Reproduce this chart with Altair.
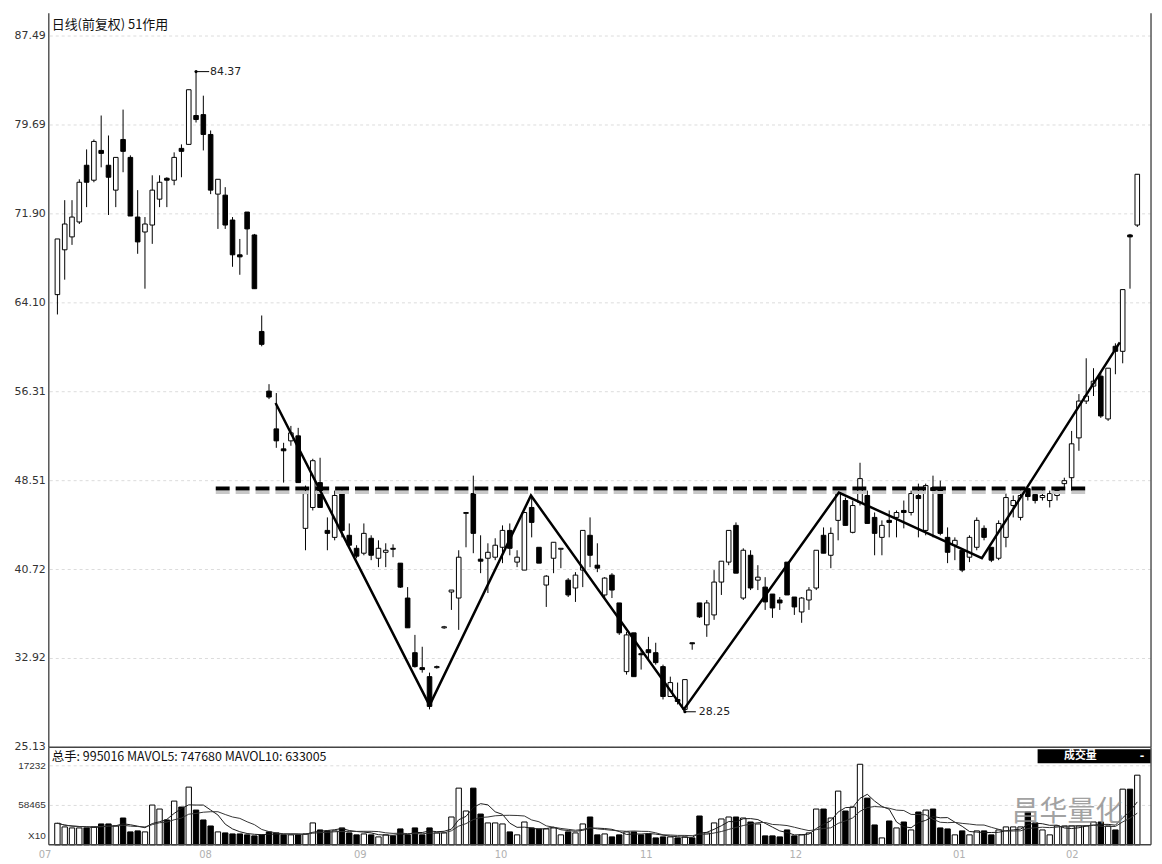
import altair as alt
import pandas as pd

# ---------------- data ----------------
opens = [64.82, 68.75, 69.88, 71.19, 76.16, 74.85, 77.46, 76.16, 73.98, 78.42,
         76.85, 71.62, 70.31, 70.92, 73.19, 75.02, 74.85, 77.64, 77.99, 80.52,
         80.60, 78.86, 73.63, 73.54, 71.36, 68.31, 72.06, 70.05, 61.59, 56.36,
         53.05, 51.30, 52.00, 52.44, 44.33, 46.16, 48.34, 44.15, 43.54, 47.38,
         43.72, 42.58, 42.15, 43.46, 41.71, 42.23, 42.58, 41.28, 38.22, 33.43,
         32.12, 31.33, 32.12, 35.61, 38.75, 38.22, 45.64, 47.38, 41.63, 41.71,
         41.80, 42.67, 44.15, 41.37, 40.67, 46.16, 42.67, 39.36, 41.71, 42.50,
         39.79, 39.10, 40.67, 43.72, 41.10, 38.49, 40.23, 37.79, 31.77, 35.17,
         33.34, 33.69, 33.43, 32.21, 29.59, 29.33, 28.46, 34.30, 37.79, 35.87,
         36.74, 39.62, 41.37, 44.59, 38.22, 41.97, 39.79, 39.18, 38.57, 38.05,
         41.37, 38.31, 37.00, 38.05, 39.10, 43.72, 41.97, 45.03, 46.77, 43.98,
         46.59, 47.21, 45.29, 43.54, 45.03, 45.29, 45.90, 45.72, 47.21, 44.15,
         47.90, 47.90, 43.54, 42.85, 42.41, 41.80, 42.67, 44.33, 42.67, 41.71,
         43.54, 46.33, 45.29, 47.81, 47.29, 47.03, 46.77, 47.21, 48.25, 48.77,
         52.26, 55.49, 56.80, 57.67, 53.92, 60.29, 59.85, 70.05, 70.92]
highs = [69.70, 73.10, 73.10, 74.93, 77.55, 78.42, 80.52, 78.77, 76.85, 81.04,
         77.03, 73.98, 71.62, 75.28, 75.28, 75.11, 77.29, 77.99, 82.78, 84.37,
         82.26, 79.21, 74.93, 74.24, 71.62, 69.70, 72.06, 70.14, 62.99, 56.97,
         56.19, 51.83, 53.31, 53.14, 48.08, 50.43, 50.52, 45.29, 47.64, 47.64,
         44.76, 42.85, 44.76, 43.72, 43.28, 43.02, 42.93, 41.28, 39.18, 34.99,
         33.95, 31.68, 32.30, 35.78, 38.92, 42.41, 45.72, 48.95, 43.72, 43.02,
         43.46, 44.59, 44.76, 42.41, 45.72, 47.03, 42.67, 40.23, 43.11, 42.58,
         39.97, 40.49, 44.15, 45.29, 43.02, 40.05, 40.40, 37.79, 35.26, 35.17,
         33.69, 34.82, 34.30, 32.38, 31.33, 30.81, 31.07, 34.30, 37.79, 38.05,
         40.67, 41.45, 44.15, 44.85, 42.58, 42.41, 41.10, 40.05, 38.57, 38.31,
         41.37, 38.31, 38.31, 39.18, 42.41, 44.41, 44.41, 47.38, 47.03, 46.77,
         50.08, 47.64, 45.72, 45.03, 45.90, 45.90, 46.77, 47.64, 48.25, 48.25,
         48.95, 48.51, 44.41, 43.54, 42.58, 43.72, 45.29, 44.59, 42.67, 45.03,
         47.38, 47.21, 47.64, 47.90, 47.47, 47.64, 47.64, 47.90, 48.77, 52.87,
         56.10, 59.24, 58.37, 57.93, 58.37, 60.55, 65.26, 70.14, 75.37]
lows = [63.08, 66.13, 69.18, 71.01, 72.49, 74.67, 75.98, 71.80, 72.49, 75.55,
        71.71, 68.40, 65.34, 69.27, 72.49, 72.49, 74.41, 75.11, 77.99, 79.91,
        77.46, 73.63, 70.58, 70.58, 67.26, 66.56, 68.31, 65.34, 60.29, 55.66,
        51.39, 48.34, 51.57, 48.34, 42.41, 45.90, 46.16, 42.41, 43.28, 43.54,
        42.67, 41.71, 41.97, 41.54, 40.93, 40.93, 41.80, 39.10, 35.61, 32.12,
        31.68, 28.46, 32.03, 35.52, 37.18, 35.43, 42.67, 42.15, 40.40, 38.66,
        41.54, 41.28, 41.97, 40.93, 40.67, 43.54, 41.28, 37.44, 40.40, 40.84,
        38.31, 37.88, 39.18, 40.93, 40.49, 38.22, 38.22, 34.99, 31.51, 31.33,
        31.95, 32.82, 32.38, 29.33, 29.59, 28.89, 28.25, 33.69, 36.48, 34.82,
        36.31, 38.49, 41.10, 40.40, 38.05, 38.92, 38.92, 37.18, 36.48, 37.18,
        38.49, 36.74, 36.05, 37.18, 38.92, 42.15, 40.84, 43.28, 44.59, 43.89,
        46.33, 44.76, 41.97, 41.97, 43.54, 43.54, 44.33, 45.46, 43.54, 43.72,
        43.54, 43.72, 41.28, 41.54, 40.49, 41.37, 42.41, 43.28, 41.37, 41.54,
        42.67, 45.29, 45.03, 46.77, 46.51, 46.77, 46.16, 46.77, 47.90, 47.64,
        51.13, 55.23, 55.93, 54.01, 53.75, 57.84, 58.80, 65.34, 70.75]
closes = [69.70, 71.01, 71.62, 74.67, 74.67, 78.25, 77.20, 75.11, 76.85, 77.38,
          71.71, 69.44, 71.01, 73.98, 74.67, 74.85, 76.85, 77.38, 82.78, 80.17,
          78.86, 73.98, 74.93, 70.92, 68.31, 68.13, 70.58, 65.34, 60.46, 55.84,
          52.00, 51.13, 52.70, 48.34, 47.38, 50.26, 46.16, 43.89, 47.21, 44.15,
          42.85, 41.89, 43.89, 41.97, 42.58, 42.41, 42.50, 39.18, 35.61, 32.21,
          31.95, 28.72, 32.21, 35.70, 38.92, 41.80, 45.72, 43.89, 41.45, 42.23,
          42.85, 44.15, 42.58, 41.80, 45.72, 44.85, 41.28, 40.14, 43.11, 42.58,
          38.49, 40.23, 44.15, 41.97, 40.84, 39.97, 38.92, 35.17, 34.99, 31.33,
          33.25, 33.43, 32.56, 29.59, 30.81, 29.15, 31.07, 34.21, 36.57, 37.79,
          39.62, 41.45, 44.15, 40.40, 42.41, 39.10, 40.05, 37.88, 37.35, 37.79,
          38.49, 37.44, 38.22, 38.92, 42.41, 42.15, 43.89, 47.38, 44.59, 46.33,
          48.69, 44.76, 43.89, 44.59, 44.85, 45.72, 45.72, 47.38, 46.94, 48.08,
          47.64, 43.89, 42.23, 43.28, 40.67, 43.54, 45.03, 43.54, 41.54, 44.76,
          47.03, 46.77, 47.21, 47.12, 46.77, 47.21, 47.38, 47.64, 48.51, 51.74,
          55.49, 55.93, 57.23, 54.18, 58.37, 59.85, 65.26, 69.88, 75.37]
volumes = [32.0, 26.6, 25.1, 25.1, 25.1, 26.6, 31.0, 31.0, 28.0, 39.8,
           19.2, 20.7, 19.2, 59.0, 53.1, 36.9, 64.9, 56.1, 85.6, 51.6,
           36.9, 28.0, 19.2, 17.7, 16.2, 16.2, 14.8, 13.3, 14.8, 19.2,
           17.7, 14.8, 14.8, 14.8, 16.2, 32.5, 22.1, 20.7, 20.7, 25.1,
           17.7, 14.8, 16.2, 14.8, 11.8, 14.8, 13.3, 23.6, 14.8, 25.1,
           14.8, 25.1, 17.7, 17.7, 41.3, 84.1, 50.2, 84.1, 45.7, 32.5,
           32.5, 31.0, 19.2, 14.8, 33.9, 25.1, 23.6, 23.6, 25.1, 14.8,
           19.2, 17.7, 31.0, 41.3, 14.8, 16.2, 11.8, 14.8, 19.2, 19.2,
           14.8, 16.2, 10.3, 11.8, 11.8, 10.3, 11.8, 10.3, 42.8, 17.7,
           32.5, 38.4, 41.3, 41.3, 39.8, 33.9, 31.0, 13.3, 13.3, 11.8,
           22.1, 13.3, 14.8, 17.7, 53.1, 53.1, 39.8, 79.7, 50.2, 56.1,
           119.5, 69.3, 29.5, 10.3, 35.4, 25.1, 33.9, 22.1, 48.7, 51.6,
           53.1, 25.1, 23.6, 14.8, 20.7, 14.8, 20.7, 20.7, 14.8, 22.1,
           26.6, 26.6, 26.6, 48.7, 32.5, 22.1, 14.8, 28.0, 28.0, 28.0,
           28.0, 28.0, 33.9, 33.9, 28.0, 22.1, 82.6, 82.6, 103.3]

price_ticks = [25.13, 32.92, 40.72, 48.51, 56.31, 64.10, 71.90, 79.69, 87.49]
vol_ticks = [13.3, 58.465, 117.232]
vol_tick_labels = ["X10", "58465", "17232"]

month_labels = ["07", "08", "09", "10", "11", "12", "01", "02"]
month_pos = [-1.7, 20.3, 41.5, 60.8, 80.7, 101.2, 123.6, 139.1]

neck_x = [21.7, 140.9]
neck_p = [47.82, 47.82]
zig_x = [29.9, 51.0, 64.9, 85.85, 107.1, 126.7, 145.6]
zig_p = [55.32, 28.81, 47.21, 28.46, 47.47, 41.72, 60.64]

hi_idx, hi_val = 19, 84.37
lo_idx, lo_val = 86, 28.25

title_text = "日线(前复权) 51作用"
vol_text = "总手: 995016 MAVOL5: 747680 MAVOL10: 633005"
box_text = "成交量"
watermark = "昌华量化"

# ---------------- chart ----------------
W, HP, HV = 1108, 738, 98
xs = alt.Scale(domain=[-0.5, 149.2], nice=False, zero=False)
ps = alt.Scale(domain=[25.13, 89.49], nice=False, zero=False)
vs = alt.Scale(domain=[0, 144.55], nice=False, zero=False)

df = pd.DataFrame({"idx": list(range(len(opens))), "open": opens, "high": highs,
                   "low": lows, "close": closes, "vol": volumes})
up_fill = alt.condition("datum.close >= datum.open", alt.value("white"), alt.value("black"))
X = lambda f: alt.X(f, scale=xs, axis=None)
base = alt.Chart(df)
one = pd.DataFrame({"a": [0]})
AXIS_C, GRID_C = "#555", "#dcdcdc"

# ---- price panel: tick labels, grid, axis line ----
pt_df = pd.DataFrame({"v": price_ticks})
pgrid = alt.Chart(pt_df).mark_rule(color=GRID_C, strokeDash=[3, 3], strokeWidth=1).encode(
    y=alt.Y("v:Q", scale=ps, axis=None))
plabels = alt.Chart(pt_df).mark_text(align="right", baseline="middle", dx=-3, fontSize=11,
                                     font="DejaVu Sans", color="#333").encode(
    x=alt.value(0), y=alt.Y("v:Q", scale=ps, axis=None), text=alt.Text("v:Q", format=".2f"))
paxis = alt.Chart(one).mark_rule(color=AXIS_C, strokeWidth=1.5).encode(
    x=alt.value(0), y=alt.value(0), y2=alt.value(HP))

wick = base.mark_rule(color="black", strokeWidth=1).encode(
    x=X("idx:Q"), y=alt.Y("low:Q", scale=ps, axis=None), y2="high:Q")
body = base.mark_bar(size=4.6, stroke="black", strokeWidth=1).encode(
    x=X("idx:Q"), y=alt.Y("open:Q", scale=ps, axis=None), y2="close:Q", fill=up_fill)

neck_df = pd.DataFrame({"x": neck_x, "p": neck_p})
neck_shadow = alt.Chart(neck_df).mark_line(color="#c8c8c8", strokeWidth=3, strokeDash=[14, 6], yOffset=4).encode(
    x=X("x:Q"), y=alt.Y("p:Q", scale=ps, axis=None))
neck = alt.Chart(neck_df).mark_line(color="black", strokeWidth=4, strokeDash=[14, 6]).encode(
    x=X("x:Q"), y=alt.Y("p:Q", scale=ps, axis=None))

zig_df = pd.DataFrame({"x": zig_x, "p": zig_p, "o": list(range(len(zig_x)))})
zig = alt.Chart(zig_df).mark_line(color="black", strokeWidth=2.5).encode(
    x=X("x:Q"), y=alt.Y("p:Q", scale=ps, axis=None), order="o:Q")

ann_df = pd.DataFrame({"x": [hi_idx, lo_idx], "p": [hi_val, lo_val],
                       "label": [f"{hi_val:.2f}", f"{lo_val:.2f}"], "len": [1.8, 1.5]})
ann_line = alt.Chart(ann_df).transform_calculate(xe="datum.x + datum.len").mark_rule(
    color="black", strokeWidth=1).encode(x=X("x:Q"), x2="xe:Q", y=alt.Y("p:Q", scale=ps, axis=None))
ann_pt = alt.Chart(ann_df).mark_point(filled=True, size=10, color="black", opacity=1).encode(
    x=X("x:Q"), y=alt.Y("p:Q", scale=ps, axis=None))
ann_txt = alt.Chart(ann_df).mark_text(align="left", baseline="middle", dx=14, fontSize=11,
                                      font="DejaVu Sans", color="#222").encode(
    x=X("x:Q"), y=alt.Y("p:Q", scale=ps, axis=None), text="label:N")

head = alt.Chart(pd.DataFrame({"t": [title_text]})).mark_text(
    align="left", baseline="middle", fontSize=13, font="Noto Sans CJK SC", color="#111").encode(
    x=alt.value(3), y=alt.value(12), text="t:N")

border_r = alt.Chart(one).mark_rule(color=AXIS_C, strokeWidth=1.5).encode(
    x=alt.value(W), y=alt.value(0), y2=alt.value(HP))
border_b = alt.Chart(one).mark_rule(color="#444", strokeWidth=1.5).encode(
    x=alt.value(0), x2=alt.value(W), y=alt.value(HP))

price = alt.layer(pgrid, wick, body, neck_shadow, neck, zig, ann_line, ann_pt, ann_txt, head,
                  plabels, paxis, border_r, border_b).properties(width=W, height=HP)

# ---- volume panel ----
vt_df = pd.DataFrame({"v": vol_ticks, "lab": vol_tick_labels})
vgrid = alt.Chart(vt_df.iloc[1:]).mark_rule(color=GRID_C, strokeDash=[3, 3]).encode(
    y=alt.Y("v:Q", scale=vs, axis=None))
vlabels = alt.Chart(vt_df).mark_text(align="right", baseline="middle", dx=-3, fontSize=10,
                                     font="Liberation Sans", color="#333").encode(
    x=alt.value(0), y=alt.Y("v:Q", scale=vs, axis=None), text="lab:N")
vaxis = alt.Chart(one).mark_rule(color=AXIS_C, strokeWidth=1.5).encode(
    x=alt.value(0), y=alt.value(0), y2=alt.value(HV))
vbars = base.mark_bar(size=5.4, stroke="black", strokeWidth=1).encode(
    x=X("idx:Q"), y=alt.Y("vol:Q", scale=vs, axis=None), fill=up_fill)
ma = base.transform_window(ma5="mean(vol)", frame=[-4, 0], sort=[alt.SortField("idx")]) \
         .transform_window(ma10="mean(vol)", frame=[-9, 0], sort=[alt.SortField("idx")])
ma5 = ma.mark_line(color="#1a1a1a", strokeWidth=1).encode(x=X("idx:Q"), y=alt.Y("ma5:Q", scale=vs, axis=None))
ma10 = ma.mark_line(color="#333", strokeWidth=1).encode(x=X("idx:Q"), y=alt.Y("ma10:Q", scale=vs, axis=None))

vhead = alt.Chart(pd.DataFrame({"t": [vol_text]})).mark_text(
    align="left", baseline="middle", fontSize=12.5, font="Noto Sans CJK SC", color="#111").encode(
    x=alt.value(3), y=alt.value(10), text="t:N")
box = alt.Chart(one).mark_rect(color="black").encode(
    x=alt.value(994), x2=alt.value(W), y=alt.value(2), y2=alt.value(16))
box_t1 = alt.Chart(pd.DataFrame({"t": [box_text]})).mark_text(
    baseline="middle", fontSize=11, fontWeight="bold", font="Noto Sans CJK SC", color="white").encode(
    x=alt.value(1037), y=alt.value(9), text="t:N")
box_t2 = alt.Chart(pd.DataFrame({"t": ["-"]})).mark_text(
    baseline="middle", fontSize=11, fontWeight="bold", font="DejaVu Sans", color="white").encode(
    x=alt.value(1099), y=alt.value(9), text="t:N")
wm = alt.Chart(pd.DataFrame({"t": [watermark]})).mark_text(
    baseline="middle", fontSize=28, font="Noto Sans CJK SC", color="#8c8c8c", opacity=0.8).encode(
    x=alt.value(1024), y=alt.value(66), text="t:N")
months = alt.Chart(pd.DataFrame({"m": month_labels, "pos": month_pos})).mark_text(
    baseline="middle", fontSize=10, font="DejaVu Sans", color="#b0b0b0").encode(
    x=X("pos:Q"), y=alt.value(HV + 10), text="m:N")
vborder_r = alt.Chart(one).mark_rule(color=AXIS_C, strokeWidth=1.5).encode(
    x=alt.value(W), y=alt.value(0), y2=alt.value(HV))
vborder_b = alt.Chart(one).mark_rule(color="#444", strokeWidth=1.5).encode(
    x=alt.value(0), x2=alt.value(W), y=alt.value(HV))

volume = alt.layer(vgrid, vbars, ma5, ma10, vhead, box, box_t1, box_t2, wm, months,
                   vlabels, vaxis, vborder_r, vborder_b).properties(width=W, height=HV)

chart = alt.vconcat(price, volume, spacing=0, bounds="flush").properties(
    padding={"left": 6, "top": 2, "right": 2, "bottom": 0},
    background="white",
).configure_view(strokeWidth=0)

chart.save("out.html", embed_options={"renderer": "svg", "actions": False})
